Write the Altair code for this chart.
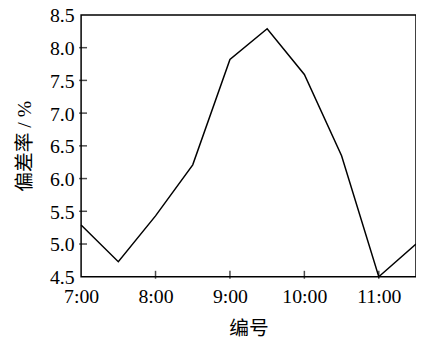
import altair as alt
import pandas as pd

hours = [7.0, 7.5, 8.0, 8.5, 9.0, 9.5, 10.0, 10.5, 11.0, 11.5]
rates = [5.29, 4.73, 5.43, 6.21, 7.82, 8.29, 7.59, 6.35, 4.5, 5.0]
x_ticks = [7, 8, 9, 10, 11]
y_ticks = [4.5, 5.0, 5.5, 6.0, 6.5, 7.0, 7.5, 8.0, 8.5]

df = pd.DataFrame({"h": hours, "r": rates})
xt = pd.DataFrame({"h": x_ticks[1:]})
yt = pd.DataFrame({"r": y_ticks[1:-1]})

LFONT = "Liberation Serif"
TFONT = "'Liberation Serif', 'Noto Sans CJK SC'"
W, H = 339, 265

xscale = alt.Scale(domain=[7, 11.5], nice=False, zero=False)
yscale = alt.Scale(domain=[4.5, 8.5], nice=False, zero=False)
xaxis = alt.Axis(values=x_ticks, labelExpr="floor(datum.value) + ':00'",
                 title="编号", ticks=False, grid=False, domain=False,
                 labelPadding=10, titlePadding=12, labelOverlap=False,
                 labelFlush=False)
yaxis = alt.Axis(values=y_ticks, format=".1f", title="偏差率 / %",
                 ticks=False, grid=False, domain=False,
                 labelPadding=7, titlePadding=15, labelOverlap=False,
                 labelOffset=1, labelFlush=False)

line = alt.Chart(df).mark_line(color="black", strokeWidth=1.5).encode(
    x=alt.X("h:Q", scale=xscale, axis=xaxis),
    y=alt.Y("r:Q", scale=yscale, axis=yaxis),
)

xticks = alt.Chart(xt).mark_tick(color="black", thickness=1.5, size=8).encode(
    x=alt.X("h:Q", scale=xscale, axis=xaxis), y=alt.value(H - 2))
yticks = alt.Chart(yt).mark_tick(color="black", thickness=1.5, size=8).encode(
    y=alt.Y("r:Q", scale=yscale, axis=yaxis), x=alt.value(2))

chart = alt.layer(line, xticks, yticks).properties(
    width=W, height=H,
    autosize=alt.AutoSizeParams(type="none"),
    padding={"left": 74, "top": 5, "right": 0, "bottom": 62},
).configure(background="white").configure_view(
    stroke="black", strokeWidth=1.5
).configure_axis(
    labelFont=LFONT, titleFont=TFONT, labelFontSize=20, titleFontSize=20,
    labelColor="black", titleColor="black", titleFontWeight="normal",
)

chart.save("out.html", embed_options={"renderer": "svg", "actions": False})
